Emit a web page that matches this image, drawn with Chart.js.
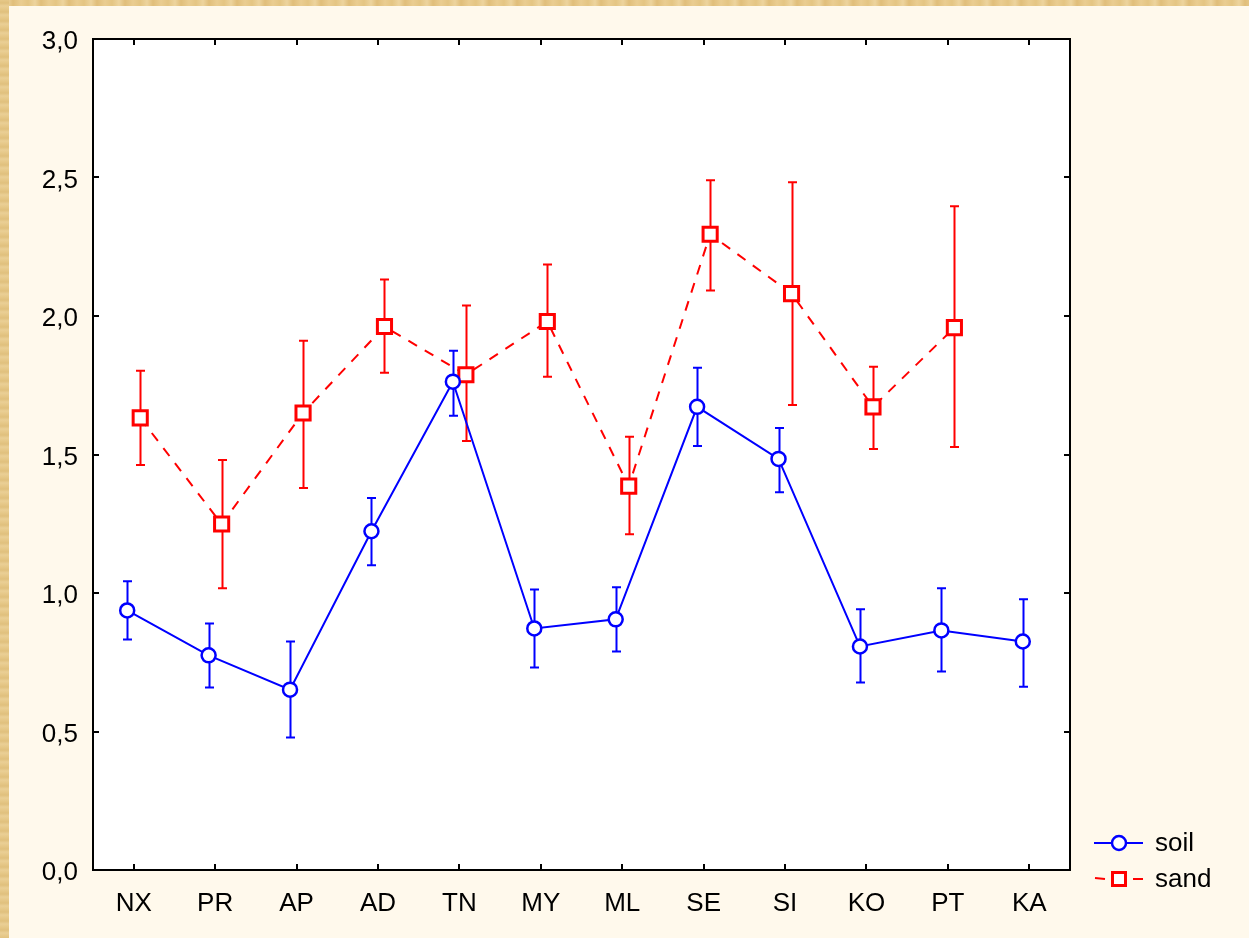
<!DOCTYPE html>
<html>
<head>
<meta charset="utf-8">
<title>soil vs sand</title>
<script src="https://cdn.jsdelivr.net/npm/chart.js@4/dist/chart.umd.min.js"></script>
<style>
  html, body { margin: 0; padding: 0; }
  body {
    width: 1249px; height: 938px; overflow: hidden;
    background: #FFF9EC;
    position: relative;
  }
  .edge-top, .edge-left { position: absolute; }
  .edge-top {
    left: 0; top: 0; width: 1249px; height: 6px;
    background: repeating-linear-gradient(90deg, #E4C583 0px, #EDD49E 7px, #E0BE7A 13px, #EACD91 21px, #E4C583 28px);
  }
  .edge-left {
    left: 0; top: 0; width: 9px; height: 938px;
    background: repeating-linear-gradient(180deg, #E6C888 0px, #E0C07D 3px, #EACF95 6px, #E6C888 9px);
  }
  #wrap { position: absolute; left: 0; top: 0; width: 1249px; height: 938px; }
</style>
</head>
<body>
<div class="edge-top"></div>
<div class="edge-left"></div>
<div id="wrap"><canvas id="chart" width="1249" height="938"></canvas></div>
<script>
// Sites along the x axis
const categories = ['NX', 'PR', 'AP', 'AD', 'TN', 'MY', 'ML', 'SE', 'SI', 'KO', 'PT', 'KA'];

// Means with lower / upper error limits
const soilMean  = [0.937, 0.775, 0.651, 1.223, 1.763, 0.872, 0.905, 1.672, 1.484, 0.807, 0.865, 0.825];
const soilLow   = [0.832, 0.659, 0.478, 1.100, 1.640, 0.731, 0.789, 1.531, 1.364, 0.677, 0.717, 0.662];
const soilHigh  = [1.042, 0.890, 0.825, 1.343, 1.875, 1.013, 1.021, 1.813, 1.596, 0.941, 1.017, 0.977];

const sandMean  = [1.632, 1.249, 1.650, 1.962, 1.788, 1.980, 1.386, 2.295, 2.081, 1.672, 1.958, null];
const sandLow   = [1.462, 1.017, 1.379, 1.795, 1.549, 1.781, 1.212, 2.092, 1.679, 1.520, 1.527, null];
const sandHigh  = [1.802, 1.480, 1.911, 2.132, 2.038, 2.186, 1.564, 2.490, 2.483, 1.817, 2.396, null];

// Y axis tick values
const yTicks = [0, 0.5, 1.0, 1.5, 2.0, 2.5, 3.0];

// Small horizontal dodge so the two series' bars do not overlap
const DODGE = 0.08;

const FONT = '"Liberation Sans", Arial, sans-serif';
const FONT_SIZE = 26;
const BLUE = '#0000FF';
const RED = '#FF0000';

function points(means, shift) {
  return means.map((v, i) => ({ x: i + shift, y: v }));
}

const fmt = v => v.toFixed(1).replace('.', ',');

// Error bars, frame, inward tick marks and legend
const decorations = {
  id: 'decorations',
  beforeDatasetsDraw(chart) {
    const { ctx, scales: { x, y } } = chart;
    const series = [
      { low: soilLow, high: soilHigh, color: BLUE, shift: -DODGE },
      { low: sandLow, high: sandHigh, color: RED, shift: DODGE }
    ];
    ctx.save();
    ctx.lineWidth = 2;
    series.forEach(s => {
      ctx.strokeStyle = s.color;
      s.low.forEach((lo, i) => {
        if (lo === null) return;
        const px = Math.round(x.getPixelForValue(i + s.shift)) + 0.5;
        const y0 = y.getPixelForValue(lo);
        const y1 = y.getPixelForValue(s.high[i]);
        ctx.beginPath();
        ctx.moveTo(px, y0); ctx.lineTo(px, y1);
        ctx.moveTo(px - 4.5, y0); ctx.lineTo(px + 4.5, y0);
        ctx.moveTo(px - 4.5, y1); ctx.lineTo(px + 4.5, y1);
        ctx.stroke();
      });
    });
    ctx.restore();
  },
  afterDraw(chart) {
    const { ctx, chartArea: a, scales: { x, y } } = chart;
    ctx.save();
    // frame
    ctx.strokeStyle = '#000';
    ctx.lineWidth = 2;
    ctx.strokeRect(a.left, a.top, a.right - a.left, a.bottom - a.top);
    // inward ticks
    ctx.lineWidth = 2;
    ctx.beginPath();
    categories.forEach((c, i) => {
      const px = Math.round(x.getPixelForValue(i));
      ctx.moveTo(px, a.bottom); ctx.lineTo(px, a.bottom - 6);
      ctx.moveTo(px, a.top); ctx.lineTo(px, a.top + 6);
    });
    yTicks.forEach(v => {
      const py = Math.round(y.getPixelForValue(v));
      ctx.moveTo(a.left, py); ctx.lineTo(a.left + 6, py);
      ctx.moveTo(a.right, py); ctx.lineTo(a.right - 6, py);
    });
    ctx.stroke();

    // legend
    const lx = 1096, lw = 46;
    const entries = [
      { label: 'soil', color: BLUE, y: 843, marker: 'circle' },
      { label: 'sand', color: RED, y: 879, marker: 'rect' }
    ];
    ctx.font = FONT_SIZE + 'px ' + FONT;
    ctx.textBaseline = 'middle';
    entries.forEach(e => {
      ctx.strokeStyle = e.color;
      ctx.lineWidth = 2;
      ctx.beginPath();
      if (e.marker === 'rect') {
        ctx.moveTo(lx - 1, e.y - 1); ctx.lineTo(lx + 9, e.y);
        ctx.moveTo(lx + lw - 9, e.y); ctx.lineTo(lx + lw + 1, e.y);
      } else {
        ctx.moveTo(lx - 2, e.y); ctx.lineTo(lx + lw + 1, e.y);
      }
      ctx.stroke();
      const cx = lx + lw / 2;
      ctx.fillStyle = '#FFFFFF';
      ctx.beginPath();
      if (e.marker === 'circle') {
        ctx.lineWidth = 2.5;
        ctx.arc(cx, e.y, 7, 0, Math.PI * 2);
      } else {
        ctx.lineWidth = 3;
        ctx.rect(cx - 6.5, e.y - 6.5, 13, 13);
      }
      ctx.fill();
      ctx.stroke();
      ctx.fillStyle = '#000';
      ctx.fillText(e.label, 1155, e.y + 1);
    });
    ctx.restore();
  }
};

// White plot background
const plotBg = {
  id: 'plotBg',
  beforeDraw(chart) {
    const { ctx, chartArea: a } = chart;
    ctx.save();
    ctx.fillStyle = '#FFFFFF';
    ctx.fillRect(a.left, a.top, a.right - a.left, a.bottom - a.top);
    ctx.restore();
  }
};

new Chart(document.getElementById('chart'), {
  type: 'line',
  data: {
    datasets: [
      {
        label: 'soil',
        data: points(soilMean, -DODGE),
        borderColor: BLUE,
        borderWidth: 2,
        pointStyle: 'circle',
        pointRadius: 7,
        pointBorderWidth: 2.5,
        pointBackgroundColor: '#FFFFFF',
        pointBorderColor: BLUE,
        tension: 0
      },
      {
        label: 'sand',
        data: points(sandMean, DODGE),
        borderColor: RED,
        borderWidth: 2,
        borderDash: [10, 9],
        pointStyle: 'rect',
        pointRadius: 10,
        pointBorderWidth: 3,
        pointBackgroundColor: '#FFFFFF',
        pointBorderColor: RED,
        tension: 0,
        spanGaps: false
      }
    ]
  },
  options: {
    responsive: false,
    animation: false,
    layout: { padding: { left: 0, top: 39, right: 179, bottom: 0 } },
    plugins: { legend: { display: false }, tooltip: { enabled: false } },
    scales: {
      x: {
        type: 'linear',
        min: -0.5,
        max: categories.length - 0.5,
        grid: { display: false },
        border: { display: false },
        afterFit(scale) { scale.height = 68; },
        afterBuildTicks(scale) {
          scale.ticks = categories.map((c, i) => ({ value: i }));
        },
        ticks: {
          autoSkip: false,
          maxRotation: 0,
          padding: 10,
          color: '#000',
          font: { family: FONT, size: FONT_SIZE },
          callback: v => categories[v]
        }
      },
      y: {
        min: 0,
        max: 3,
        grid: { display: false },
        border: { display: false },
        afterFit(scale) { scale.width = 93; },
        afterBuildTicks(scale) {
          scale.ticks = yTicks.map(v => ({ value: v }));
        },
        ticks: {
          padding: 7,
          labelOffset: 3,
          color: '#000',
          font: { family: FONT, size: FONT_SIZE },
          callback: v => fmt(v)
        }
      }
    }
  },
  plugins: [plotBg, decorations]
});
</script>
</body>
</html>
